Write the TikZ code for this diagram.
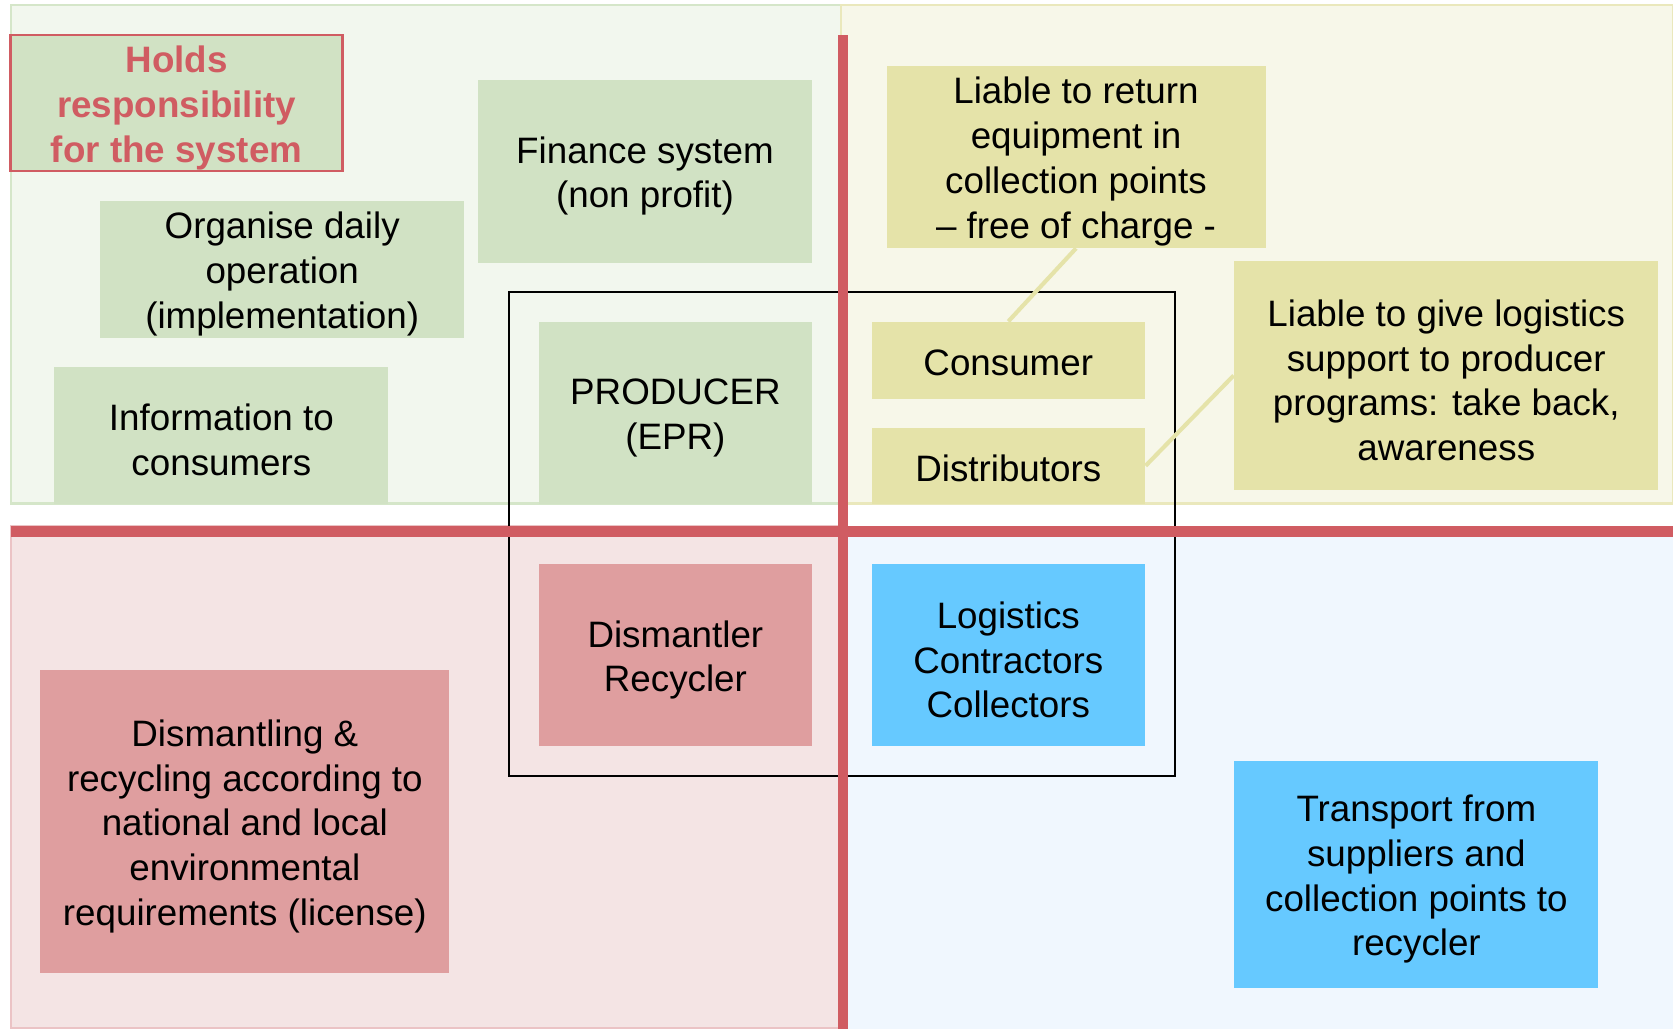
\documentclass[tikz,border=0pt]{standalone}
\usepackage{fontspec}
\setmainfont{Liberation Sans}
\usetikzlibrary{positioning}

\definecolor{greenbg}{HTML}{F2F7EE}
\definecolor{greenln}{HTML}{D5E6C9}
\definecolor{yellowbg}{HTML}{F7F7E9}
\definecolor{yellowln}{HTML}{EAE8BC}
\definecolor{pinkbg}{HTML}{F4E4E4}
\definecolor{pinkln}{HTML}{EBC3C5}
\definecolor{bluebg}{HTML}{F0F7FE}
\definecolor{greenbox}{HTML}{D1E2C4}
\definecolor{yellowbox}{HTML}{E5E3A9}
\definecolor{pinkbox}{HTML}{DF9E9F}
\definecolor{bluebox}{HTML}{66C9FF}
\definecolor{axisred}{HTML}{D05C62}

\begin{document}
\begin{tikzpicture}[x=0.01cm, y=-0.01cm,
  txt/.style={inner sep=0pt, align=center, yshift=-0.045cm,
    font=\fontsize{9.8}{11.95}\selectfont},
  head/.style={txt, text=axisred, font=\fontsize{9.8}{11.95}\selectfont\bfseries},
  box/.style={inner sep=0pt},
  gbox/.style={box, fill=greenbox},
  ybox/.style={box, fill=yellowbox},
  pbox/.style={box, fill=pinkbox},
  bbox/.style={box, fill=bluebox},
  link/.style={draw=yellowbox, line width=1.1pt}]
\useasboundingbox (0,0) rectangle (1568,964);

% quadrants
\filldraw[fill=greenbg, draw=greenln, line width=0.6pt] (10,5) rectangle (788,472);
\filldraw[fill=yellowbg, draw=yellowln, line width=0.6pt] (788,5) rectangle (1568,472);
\filldraw[fill=pinkbg, draw=pinkln, line width=0.6pt] (10,493) rectangle (788,964);
\fill[bluebg] (795,493) rectangle (1568,964);

% circle of the main actors
\draw[line width=0.5pt] (477,274) rectangle (1101,727);

% axes
\draw[axisred, line width=2.8pt] (10,498) -- (1568,498);
\draw[axisred, line width=2.8pt] (790,33) -- (790,964);

% producer side
\node[gbox, draw=axisred, line width=0.6pt, minimum width=3.11cm, minimum height=1.27cm,
  label={[head]center:{Holds\\responsibility\\for the system}}] (hold) at (165.5,96.5) {};
\node[gbox, minimum width=3.41cm, minimum height=1.29cm,
  label={[txt]center:{Organise daily\\operation\\(implementation)}}] (org) at (264.5,252.5) {};
\node[gbox, minimum width=3.13cm, minimum height=1.71cm,
  label={[txt]center:{Finance system\\(non profit)}}] (fin) at (604.5,160.5) {};
\node[gbox, minimum width=3.13cm, minimum height=1.28cm,
  label={[txt]center:{Information to\\consumers}}] (info) at (207.5,408) {};
\node[gbox, minimum width=2.56cm, minimum height=1.70cm,
  label={[txt]center:{PRODUCER\\(EPR)}}] (prod) at (633,387) {};

% consumer side
\node[ybox, minimum width=3.55cm, minimum height=1.70cm,
  label={[txt]center:{Liable to return\\equipment in\\collection points\\-- free of charge -}}]
  (ret) at (1008.5,147) {};
\node[ybox, minimum width=2.56cm, minimum height=0.72cm,
  label={[txt, yshift=0.02cm]center:Consumer}] (cons) at (945,338) {};
\node[ybox, minimum width=2.56cm, minimum height=0.71cm,
  label={[txt, yshift=0.02cm]center:Distributors}] (dist) at (945,436.5) {};
\node[ybox, minimum width=3.97cm, minimum height=2.14cm,
  label={[txt]center:{Liable to give logistics\\support to producer\\programs: take back,\\awareness}}]
  (supp) at (1355.5,352) {};
\draw[link] (ret.south) -- (cons.north);
\draw[link] (supp.west) -- (dist.east);

% recycling side
\node[pbox, minimum width=2.56cm, minimum height=1.70cm,
  label={[txt]center:{Dismantler\\Recycler}}] (rec) at (633,614) {};
\node[pbox, minimum width=3.83cm, minimum height=2.84cm,
  label={[txt]center:{Dismantling \&\\recycling according to\\national and local\\environmental\\requirements (license)}}]
  (lic) at (229.5,770) {};

% logistics side
\node[bbox, minimum width=2.56cm, minimum height=1.70cm,
  label={[txt]center:{Logistics\\Contractors\\Collectors}}] (log) at (945,614) {};
\node[bbox, minimum width=3.41cm, minimum height=2.13cm,
  label={[txt]center:{Transport from\\suppliers and\\collection points to\\recycler}}]
  (trans) at (1327.5,819.5) {};
\end{tikzpicture}
\end{document}
